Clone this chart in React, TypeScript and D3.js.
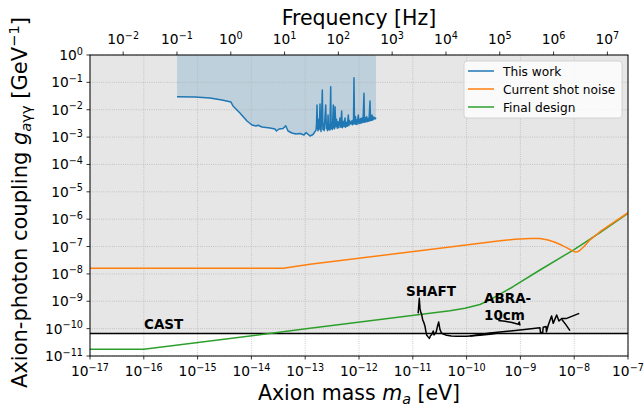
import React from 'react';
import * as d3 from 'd3';

// ---------- data ----------
const HZ_PER_EV = 2.418e14;

const massTickExps = [-17, -16, -15, -14, -13, -12, -11, -10, -9, -8, -7];
const gTickExps = [0, -1, -2, -3, -4, -5, -6, -7, -8, -9, -10, -11];
const freqTickExps = [-2, -1, 0, 1, 2, 3, 4, 5, 6, 7];

// "This work" – frequency (Hz) and coupling (GeV^-1)
const thisWorkFreqHz = [
  0.1, 0.216, 0.411, 0.687, 1.01, 1.10, 1.48, 2.00, 2.48, 2.94,
  3.21, 3.80, 5.36, 6.64, 7.08, 7.88, 9.36, 10.5, 11.6, 13.7,
  16.3, 19.4, 23.0, 25.0, 29.7, 33.8,
  38.4, 39.2, 40.1, 41.0, 41.9, 42.8, 43.7, 44.6, 45.6, 46.6,
  47.6, 48.9, 50.3, 51.6, 53.0, 54.5, 56.3, 58.2, 59.8, 61.5,
  62.9, 64.3, 65.7, 67.1, 69.6, 72.1, 73.3, 74.6, 77.5, 80.5,
  81.7, 83.0, 84.8, 86.7, 89.5, 92.4, 95.5, 98.6, 102, 107,
  111, 115, 118, 122, 127, 133, 136, 139, 146, 153,
  157, 161, 169, 177, 182, 187, 191, 195, 199, 204,
  208, 213, 218, 222, 229, 235, 241, 247, 254, 261,
  268, 275, 287, 299, 306, 313, 324, 336, 346, 356,
  371, 387, 396, 405, 413, 422, 431, 441, 450, 470,
  485, 500,
];
const thisWorkG = [
  0.0299, 0.0292, 0.0268, 0.0227, 0.0191, 0.0137, 0.0076, 0.00387, 0.00277, 0.00254,
  0.0027, 0.00234, 0.00215, 0.00197, 0.00167, 0.00197, 0.00206, 0.0026, 0.00167, 0.00141,
  0.0013, 0.00135, 0.00119, 0.00147, 0.0011, 0.00124,
  0.0018, 0.0028, 0.0149, 0.0022, 0.0017, 0.0045, 0.0019, 0.0035, 0.0162, 0.0021,
  0.0016, 0.006, 0.0526, 0.0019, 0.003, 0.0017, 0.005, 0.0149, 0.002, 0.0032,
  0.0017, 0.0064, 0.0019, 0.0028, 0.0018, 0.0694, 0.002, 0.0035, 0.0019, 0.0149,
  0.0022, 0.004, 0.002, 0.0129, 0.0024, 0.0045, 0.0021, 0.0036, 0.0022, 0.005,
  0.0023, 0.009, 0.0022, 0.0038, 0.0024, 0.005, 0.0023, 0.0035, 0.0025, 0.0064,
  0.0026, 0.004, 0.003, 0.0039, 0.0028, 0.0042, 0.003, 0.148, 0.0035, 0.003,
  0.0056, 0.003, 0.0042, 0.0029, 0.0045, 0.0064, 0.0031, 0.0045, 0.0032, 0.0048,
  0.0033, 0.005, 0.0034, 0.0398, 0.0035, 0.0052, 0.0036, 0.0056, 0.0037, 0.0048,
  0.0038, 0.0208, 0.004, 0.0058, 0.0041, 0.0064, 0.0042, 0.0055, 0.0044, 0.0052,
  0.0046, 0.0051,
];

// "Current shot noise" – axion mass (eV) and coupling
const shotNoiseMass = [
  1e-17, 3.92e-14, 1.23e-13, 7.53e-11, 4.18e-10, 7.94e-10, 1.51e-9, 2.31e-9, 3.26e-9, 4.4e-9,
  5.93e-9, 7.67e-9, 9.1e-9, 1.03e-8, 1.15e-8, 1.28e-8, 1.52e-8, 1.97e-8, 3.02e-8, 5.5e-8, 1e-7,
];
const shotNoiseG = [
  1.6e-8, 1.6e-8, 2.24e-8, 1.07e-7, 1.63e-7, 1.85e-7, 1.98e-7, 1.96e-7, 1.73e-7, 1.43e-7,
  1.11e-7, 8.61e-8, 7.1e-8, 6.36e-8, 6.41e-8, 7.28e-8, 1.0e-7, 1.76e-7, 3.48e-7, 7.87e-7, 1.72e-6,
];

// "Final design"
const finalDesignMass = [
  1e-17, 1e-16, 1.23e-13, 4.91e-11, 9.33e-11, 1.77e-10, 2.72e-10, 4.18e-10, 7.28e-10,
  2.31e-9, 9.62e-9, 3.02e-8, 1e-7,
];
const finalDesignG = [
  1.75e-11, 1.75e-11, 1.03e-10, 4.51e-10, 5.57e-10, 7.6e-10, 1.13e-9, 1.84e-9, 3.4e-9,
  1.39e-8, 7.46e-8, 3.25e-7, 1.64e-6,
];

// SHAFT
const shaftMass = [
  1.26e-11, 1.32e-11, 1.36e-11, 1.40e-11, 1.46e-11, 1.53e-11, 1.60e-11, 1.69e-11, 1.75e-11, 1.81e-11,
  1.92e-11, 2.03e-11, 2.14e-11, 2.25e-11, 2.40e-11, 2.48e-11, 2.59e-11, 2.72e-11, 2.85e-11, 3.03e-11,
  3.20e-11, 3.40e-11, 3.69e-11, 4.27e-11, 5.2e-11, 6.55e-11, 1.00e-10, 1.77e-10, 2.72e-10, 3.67e-10,
];
const shaftG = [
  3.62e-10, 1.28e-9, 5.5e-10, 4.15e-10, 3.3e-10, 2.06e-10, 1.7e-10, 1.19e-10, 8.0e-11, 5.83e-11,
  5.0e-11, 4.42e-11, 5.6e-11, 6.08e-11, 8.17e-11, 5.9e-11, 6.62e-11, 7.5e-11, 1.14e-10, 1.74e-10,
  9.27e-11, 7.0e-11, 6.35e-11, 5.69e-11, 5.4e-11, 5.27e-11, 5.23e-11, 5.69e-11, 6.24e-11, 6.73e-11,
];

// ABRA-10cm (three traces)
const abraMassA = [3.88e-10, 5.18e-10, 6.98e-10, 9.14e-10, 9.5e-10, 9.84e-10];
const abraGA = [1.98e-10, 1.85e-10, 1.67e-10, 1.45e-10, 1.75e-10, 1.3e-10];
const abraMassB = [
  1.16e-10, 2.72e-10, 5.18e-10, 9.84e-10, 2.31e-9, 2.36e-9, 2.6e-9, 2.65e-9, 3.0e-9, 3.05e-9,
  3.3e-9, 3.8e-9, 4.07e-9, 4.72e-9, 5.21e-9, 5.85e-9, 7.24e-9, 1.24e-8,
];
const abraGB = [
  5.37e-11, 6.9e-11, 7.84e-11, 8.89e-11, 1.08e-10, 7.2e-11, 7.2e-11, 1.12e-10, 1.2e-10, 7.6e-11,
  1.35e-10, 2.89e-10, 1.56e-10, 3.14e-10, 1.9e-10, 2.34e-10, 2.37e-10, 3.62e-10,
];
const abraMassC = [5.85e-9, 7.0e-9, 8.35e-9];
const abraGC = [2.2e-10, 1.4e-10, 8.51e-11];

const castG = 6.6e-11;

const legendLabels = ['This work', 'Current shot noise', 'Final design'];
const legendColors = ['#1f77b4', '#ff7f0e', '#2ca02c'];

// ---------- layout ----------
const W = 644;
const H = 407;
const PL = 90;
const PR = 628;
const PT = 55;
const PB = 356;

const FONT = 'DejaVu Sans, sans-serif';

export default function App() {
  const x = d3.scaleLog().domain([1e-17, 1e-7]).range([PL, PR]);
  const y = d3.scaleLog().domain([1e-11, 1]).range([PB, PT]);
  const xf = d3.scaleLog().domain([1e-17 * HZ_PER_EV, 1e-7 * HZ_PER_EV]).range([PL, PR]);

  const zip = (a: number[], b: number[]) => a.map((v, i) => [v, b[i]] as [number, number]);
  const line = d3
    .line<[number, number]>()
    .x((d) => x(d[0]))
    .y((d) => y(d[1]));

  const thisWork = zip(thisWorkFreqHz.map((f) => f / HZ_PER_EV), thisWorkG);
  const area = d3
    .area<[number, number]>()
    .x((d) => x(d[0]))
    .y0(y(1))
    .y1((d) => y(d[1]));

  const tickFs = 13.8;
  const supFs = tickFs * 0.7;

  return (
    <svg
      width={W}
      height={H}
      style={{ position: 'absolute', left: 0, top: 0, background: '#fff' }}
      fontFamily={FONT}
    >
      <defs>
        <clipPath id="plotclip">
          <rect x={PL} y={PT} width={PR - PL} height={PB - PT} />
        </clipPath>
      </defs>
      <rect x={0} y={0} width={W} height={H} fill="#fff" />
      {/* CAST excluded region */}
      <rect x={PL} y={PT} width={PR - PL} height={y(castG) - PT} fill="#808080" fillOpacity={0.2} />
      {/* This work fill */}
      <path d={area(thisWork) || ''} fill="#1f77b4" fillOpacity={0.2} />

      {/* grid */}
      <g stroke="#b0b0b0" strokeWidth={0.8} strokeDasharray="0.8,1.4">
        {massTickExps.map((e) => (
          <line key={'gx' + e} x1={x(10 ** e)} x2={x(10 ** e)} y1={PT} y2={PB} />
        ))}
        {gTickExps.map((e) => (
          <line key={'gy' + e} x1={PL} x2={PR} y1={y(10 ** e)} y2={y(10 ** e)} />
        ))}
      </g>

      <g clipPath="url(#plotclip)" fill="none" strokeLinejoin="round">
        <line x1={PL} x2={PR} y1={y(castG)} y2={y(castG)} stroke="#000" strokeWidth={1.6} />
        <path d={line(zip(finalDesignMass, finalDesignG)) || ''} stroke="#2ca02c" strokeWidth={1.5} />
        <path d={line(zip(shotNoiseMass, shotNoiseG)) || ''} stroke="#ff7f0e" strokeWidth={1.5} />
        <path d={line(thisWork) || ''} stroke="#1f77b4" strokeWidth={1.5} />
        <path d={line(zip(shaftMass, shaftG)) || ''} stroke="#000" strokeWidth={1.5} />
        <path d={line(zip(abraMassA, abraGA)) || ''} stroke="#000" strokeWidth={1.5} />
        <path d={line(zip(abraMassB, abraGB)) || ''} stroke="#000" strokeWidth={1.5} />
        <path d={line(zip(abraMassC, abraGC)) || ''} stroke="#000" strokeWidth={1.5} />
      </g>

      {/* annotations */}
      <g fontWeight="bold" fontSize={13.5} fill="#000">
        <text x={144} y={329}>CAST</text>
        <text x={406} y={295.5}>SHAFT</text>
        <text x={484} y={303.3}>ABRA-</text>
        <text x={484} y={320}>10cm</text>
      </g>

      {/* frame */}
      <rect x={PL} y={PT} width={PR - PL} height={PB - PT} fill="none" stroke="#000" strokeWidth={1} />

      {/* bottom axis */}
      <g>
        {massTickExps.map((e) => (
          <g key={'bx' + e}>
            <line x1={x(10 ** e)} x2={x(10 ** e)} y1={PB} y2={PB + 3.5} stroke="#000" strokeWidth={0.8} />
            <text x={x(10 ** e)} y={376} textAnchor="middle" fontSize={tickFs}>
              10<tspan dy={-5.5} fontSize={supFs}>{'\u2212' + Math.abs(e)}</tspan>
            </text>
          </g>
        ))}
      </g>
      {/* left axis */}
      <g>
        {gTickExps.map((e) => (
          <g key={'ly' + e}>
            <line x1={PL - 3.5} x2={PL} y1={y(10 ** e)} y2={y(10 ** e)} stroke="#000" strokeWidth={0.8} />
            <text x={83} y={y(10 ** e) + 5} textAnchor="end" fontSize={tickFs}>
              10<tspan dy={-5.5} fontSize={supFs}>{e < 0 ? '\u2212' + Math.abs(e) : String(e)}</tspan>
            </text>
          </g>
        ))}
      </g>
      {/* top axis */}
      <g>
        {freqTickExps.map((e) => (
          <g key={'tf' + e}>
            <line x1={xf(10 ** e)} x2={xf(10 ** e)} y1={PT - 3.5} y2={PT} stroke="#000" strokeWidth={0.8} />
            <text x={xf(10 ** e)} y={44} textAnchor="middle" fontSize={tickFs}>
              10<tspan dy={-5.5} fontSize={supFs}>{e < 0 ? '\u2212' + Math.abs(e) : String(e)}</tspan>
            </text>
          </g>
        ))}
      </g>

      {/* axis titles */}
      <text x={(PL + PR) / 2} y={25} textAnchor="middle" fontSize={20.5}>
        Frequency [Hz]
      </text>
      <text x={(PL + PR) / 2} y={400} textAnchor="middle" fontSize={20.5}>
        Axion mass <tspan fontStyle="italic">m</tspan>
        <tspan dy={4} fontSize={14.3} fontStyle="italic">a</tspan>
        <tspan dy={-4}> [eV]</tspan>
      </text>
      <text
        transform={`translate(27, ${(PT + PB) / 2 - 3}) rotate(-90)`}
        textAnchor="middle"
        fontSize={21}
      >
        Axion-photon coupling <tspan fontStyle="italic">g</tspan>
        <tspan dy={4} fontSize={14.7}>
          <tspan fontStyle="italic">a</tspan>γγ
        </tspan>
        <tspan dy={-4}> [GeV</tspan>
        <tspan dy={-8} fontSize={14.7}>{'\u22121'}</tspan>
        <tspan dy={8}>]</tspan>
      </text>

      {/* legend */}
      <g>
        <rect x={464} y={61} width={158} height={57} rx={3} fill="#fff" fillOpacity={0.8} stroke="#cccccc" strokeWidth={0.8} />
        {legendLabels.map((lab, i) => (
          <g key={lab}>
            <line x1={468} x2={494} y1={71 + i * 18} y2={71 + i * 18} stroke={legendColors[i]} strokeWidth={1.5} />
            <text x={503} y={71 + i * 18 + 4.5} fontSize={12.2}>
              {lab}
            </text>
          </g>
        ))}
      </g>
    </svg>
  );
}
